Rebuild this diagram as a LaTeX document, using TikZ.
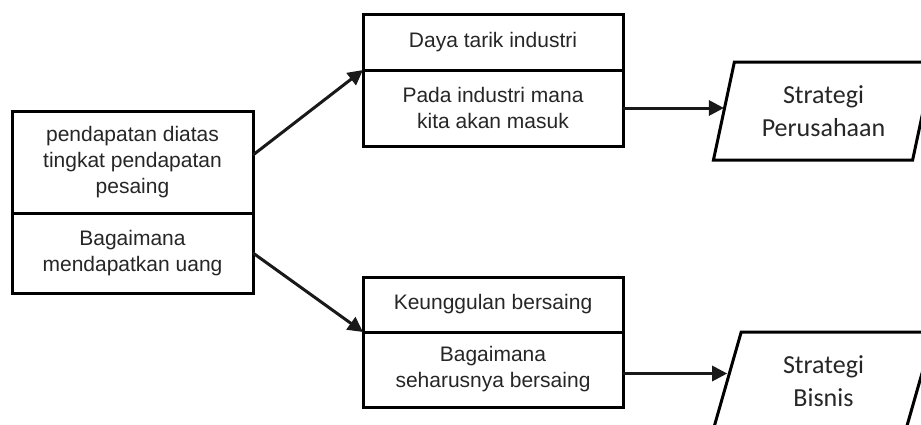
\documentclass[tikz,border=0pt]{standalone}
\usepackage{fontspec}
\setmainfont{Liberation Sans}
\newfontfamily\calibrifont{Carlito}
\usetikzlibrary{arrows.meta, positioning, shapes.geometric}
\tikzset{
  part/.style={draw, line width=1.5pt, align=center, outer sep=0pt, inner sep=2pt, font=\fontsize{10.5}{13}\selectfont, text=black!85},
  leftpart/.style={part, minimum width=120.5pt},
  midpart/.style={part, minimum width=130pt},
  output/.style={draw, line width=1.5pt, trapezium, trapezium left angle=76, trapezium right angle=104, trapezium stretches=true, minimum width=110.5pt, minimum height=49pt, outer sep=0pt, align=center, font=\calibrifont\fontsize{13}{16.5}\selectfont, text=black!85},
  arrow/.style={-{Triangle[length=7.5pt, width=7.5pt]}, line width=1.5pt, black!90}
}

\begin{document}
\begin{tikzpicture}[x=0.5pt, y=-0.5pt]
    \clip (0,0) rectangle (921,424);
    % left: pendapatan
    \node[leftpart, minimum height=51pt] (pend) at (132.5,162) {pendapatan diatas\\tingkat pendapatan\\pesaing};
    \node[leftpart, minimum height=40pt, below=0pt of pend] (uang) {Bagaimana\\mendapatkan uang};
    % middle: industri / bersaing
    \node[midpart, minimum height=28pt] (daya) at (493,42) {Daya tarik industri};
    \node[midpart, minimum height=38pt, below=0pt of daya] (pada) {Pada industri mana\\kita akan masuk};
    \node[midpart, minimum height=27.5pt] (keung) at (493,304.5) {Keunggulan bersaing};
    \node[midpart, minimum height=37.5pt, below=0pt of keung] (harus) {Bagaimana\\seharusnya bersaing};
    % right: strategi
    \node[output] (perus) at (823.5,111) {Strategi\\Perusahaan};
    \node[output] (bisnis) at (823.5,381) {Strategi\\Bisnis};

    \draw[arrow] ([yshift=3.5pt]pend.east) -- (daya.south west);
    \draw[arrow] (uang.east) -- (keung.south west);
    \draw[arrow] (pada.east) -- (pada.east -| perus.west);
    \draw[arrow] ([yshift=-2pt]harus.east) -- ([yshift=-2pt]harus.east -| bisnis.west);
\end{tikzpicture}
\end{document}
